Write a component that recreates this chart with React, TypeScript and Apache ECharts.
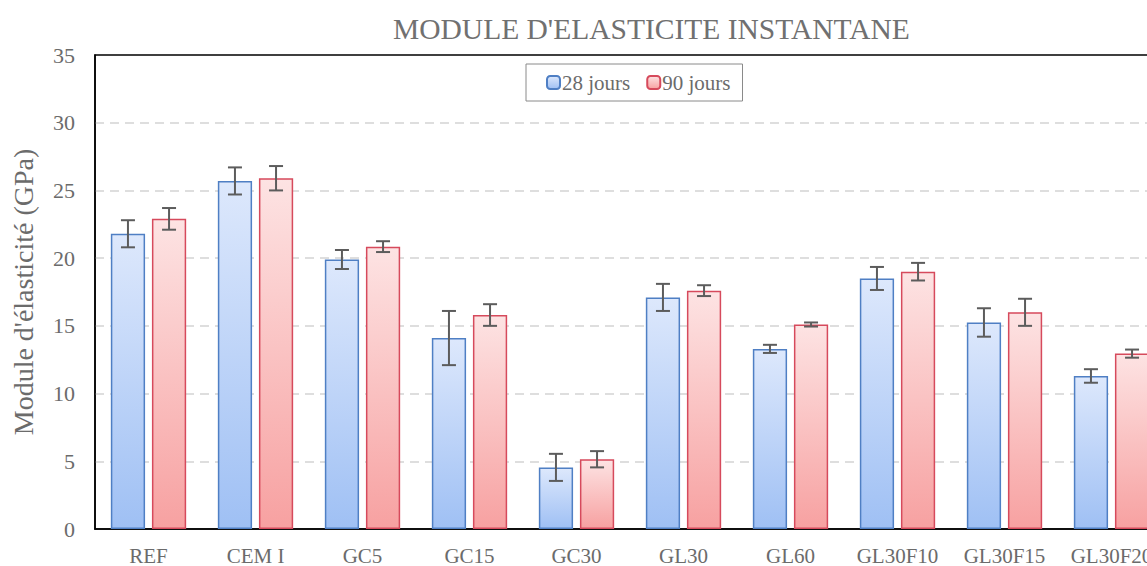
import React, { useEffect, useRef } from "react";
import * as echarts from "echarts";

const categories = ["REF", "CEM I", "GC5", "GC15", "GC30", "GL30", "GL60", "GL30F10", "GL30F15", "GL30F20"];
const values28 = [21.8, 25.7, 19.9, 14.1, 4.55, 17.1, 13.3, 18.5, 15.25, 11.3];
const err28 = [1.0, 1.0, 0.7, 2.0, 1.0, 1.0, 0.3, 0.85, 1.05, 0.5];
const values90 = [22.9, 25.9, 20.85, 15.8, 5.15, 17.6, 15.1, 19.0, 16.0, 12.95];
const err90 = [0.8, 0.9, 0.4, 0.8, 0.6, 0.4, 0.15, 0.65, 1.0, 0.3];
const seriesNames = ["28 jours", "90 jours"];

const FONT = "'Liberation Serif', 'Times New Roman', serif";
const TXT = "#6b6b6b";
const BAR_W = 0.32;
const GAP = 0.2;

export default function App() {
  const ref = useRef<HTMLDivElement>(null);
  useEffect(() => {
    if (!ref.current) return;
    const chart = echarts.init(ref.current, undefined, { renderer: "svg" });
    const errSeries = (vals: number[], errs: number[], side: number, name: string) => ({
      type: "custom",
      name: name + " err",
      z: 5,
      data: vals.map((v, i) => [i, v - errs[i], v + errs[i]]),
      renderItem: (params: any, api: any) => {
        const idx = api.value(0);
        const bw = api.size([1, 0])[0];
        const off = side * bw * (BAR_W + BAR_W * GAP) / 2;
        const lo = api.coord([idx, api.value(1)]);
        const hi = api.coord([idx, api.value(2)]);
        const x = lo[0] + off;
        const cap = 7;
        const style = { stroke: "#5c5c5c", lineWidth: 2 };
        return {
          type: "group",
          children: [
            { type: "line", shape: { x1: x, y1: lo[1], x2: x, y2: hi[1] }, style },
            { type: "line", shape: { x1: x - cap, y1: lo[1], x2: x + cap, y2: lo[1] }, style },
            { type: "line", shape: { x1: x - cap, y1: hi[1], x2: x + cap, y2: hi[1] }, style },
          ],
        };
      },
    });
    chart.setOption({
      animation: false,
      backgroundColor: "#ffffff",
      title: {
        text: "MODULE D'ELASTICITE INSTANTANE",
        left: 388,
        top: 9,
        textStyle: { fontFamily: FONT, fontSize: 29.5, fontWeight: "normal", color: "#707070" },
      },
      legend: {
        data: seriesNames,
        left: 526,
        top: 64,
        padding: [8, 12, 8, 20],
        itemWidth: 13,
        itemHeight: 13,
        itemGap: 16,
        borderColor: "#8a8a8a",
        borderWidth: 1,
        textStyle: { fontFamily: FONT, fontSize: 21, color: TXT, padding: [0, 0, 0, -3] },
      },
      grid: {
        left: 95,
        right: 35,
        top: 55,
        bottom: 36,
        show: true,
        borderColor: "#000",
        borderWidth: 1.5,
      },
      xAxis: {
        type: "category",
        data: categories,
        axisLine: { lineStyle: { color: "#000", width: 1.5 } },
        axisTick: { show: false },
        axisLabel: { fontFamily: FONT, fontSize: 21, color: TXT, margin: 16, interval: 0 },
      },
      yAxis: {
        type: "value",
        min: 0,
        max: 35,
        interval: 5,
        name: "Module d'élasticité (GPa)",
        nameLocation: "middle",
        nameGap: 58,
        nameTextStyle: { fontFamily: FONT, fontSize: 28, color: TXT },
        axisLine: { show: true, lineStyle: { color: "#000", width: 1.5 } },
        axisTick: { show: false },
        axisLabel: { fontFamily: FONT, fontSize: 22, color: TXT, margin: 20 },
        splitLine: {
          showMaxLine: false,
          showMinLine: false,
          lineStyle: { color: "#d4d4d4", type: [9, 6], width: 1.5 },
        },
      },
      series: [
        {
          type: "bar",
          name: seriesNames[0],
          data: values28,
          barWidth: BAR_W * 100 + "%",
          barGap: GAP * 100 + "%",
          itemStyle: {
            color: new echarts.graphic.LinearGradient(0, 0, 0, 1, [
              { offset: 0, color: "#dde8fc" },
              { offset: 1, color: "#9fc0f4" },
            ]),
            borderColor: "#4f7fc4",
            borderWidth: 1.5,
          },
        },
        {
          type: "bar",
          name: seriesNames[1],
          data: values90,
          barWidth: BAR_W * 100 + "%",
          barGap: GAP * 100 + "%",
          itemStyle: {
            color: new echarts.graphic.LinearGradient(0, 0, 0, 1, [
              { offset: 0, color: "#fde3e3" },
              { offset: 1, color: "#f7a1a1" },
            ]),
            borderColor: "#d64a5c",
            borderWidth: 1.5,
          },
        },
        errSeries(values28, err28, -1, seriesNames[0]),
        errSeries(values90, err90, 1, seriesNames[1]),
      ],
    });
    return () => chart.dispose();
  }, []);
  return (
    <div style={{ position: "absolute", left: 0, top: 0, width: 1147, height: 566, overflow: "hidden" }}>
      <div ref={ref} style={{ width: 1200, height: 566 }} />
    </div>
  );
}
